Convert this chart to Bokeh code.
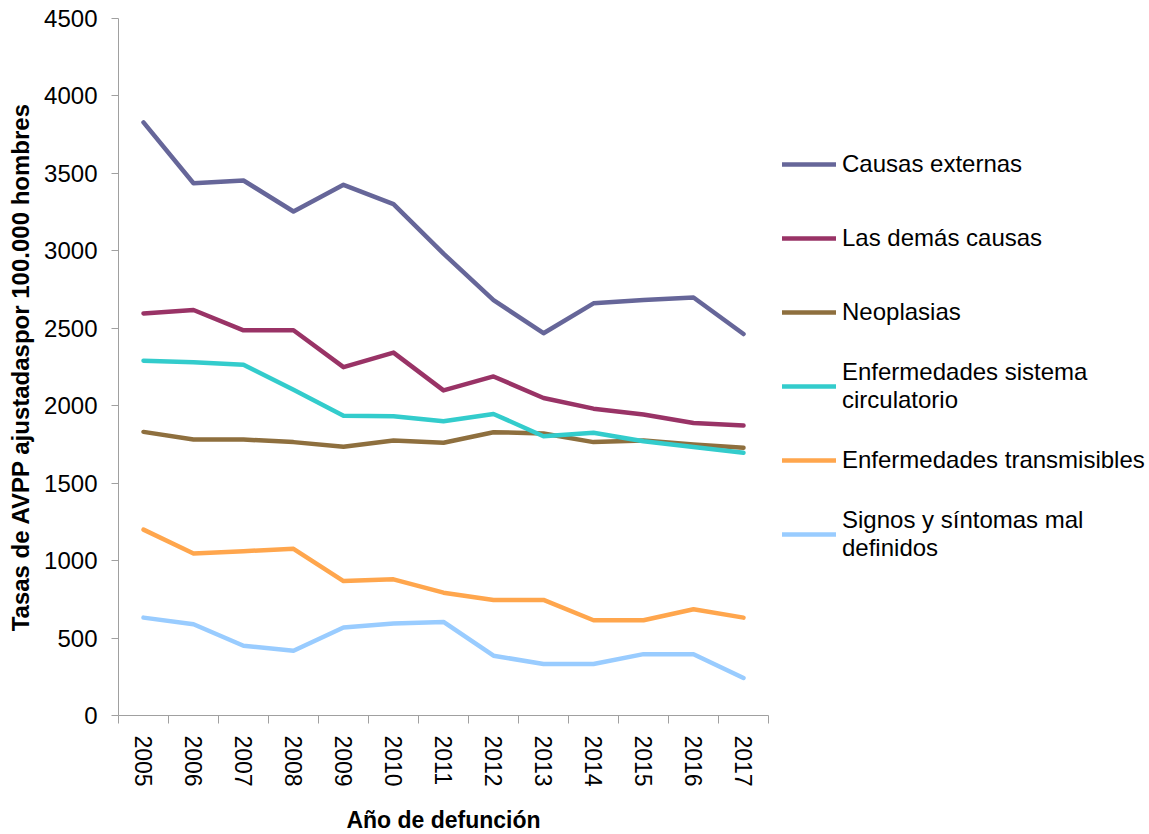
from bokeh.plotting import figure
from bokeh.models import Range1d, FixedTicker, Legend, LegendItem
from bokeh.embed import file_html
from bokeh.resources import INLINE

years = [2005, 2006, 2007, 2008, 2009, 2010, 2011, 2012, 2013, 2014, 2015, 2016, 2017]

causas_externas = [3829, 3436, 3454, 3254, 3426, 3301, 2982, 2682, 2468, 2661, 2682, 2699, 2463]
demas_causas = [2596, 2618, 2487, 2487, 2249, 2343, 2099, 2189, 2050, 1981, 1943, 1889, 1872]
neoplasias = [1831, 1782, 1782, 1765, 1735, 1775, 1761, 1829, 1821, 1765, 1775, 1750, 1728]
circulatorio = [2290, 2281, 2264, 2103, 1936, 1932, 1900, 1947, 1803, 1825, 1771, 1733, 1696]
transmisibles = [1200, 1046, 1061, 1076, 868, 879, 793, 746, 746, 615, 615, 686, 632]
signos = [632, 589, 450, 418, 568, 594, 604, 386, 332, 332, 396, 396, 242]

series_names = [
    "Causas externas",
    "Las demás causas",
    "Neoplasias",
    "Enfermedades sistema\ncirculatorio",
    "Enfermedades transmisibles",
    "Signos y síntomas mal\ndefinidos",
]
series_values = [causas_externas, demas_causas, neoplasias, circulatorio, transmisibles, signos]
series_colors = ["#666699", "#993366", "#8E6F3E", "#33CCCC", "#FFA64D", "#99CCFF"]

y_ticks = [0, 500, 1000, 1500, 2000, 2500, 3000, 3500, 4000, 4500]
x_bounds = [y - 0.5 for y in years] + [years[-1] + 0.5]

FONT = "Liberation Sans"

p = figure(frame_width=650, frame_height=697, output_backend="svg", toolbar_location=None,
           x_range=Range1d(years[0] - 0.5, years[-1] + 0.5),
           y_range=Range1d(0, 4500),
           min_border_left=118, min_border_right=381, min_border_top=18, min_border_bottom=5)

p.outline_line_color = None
p.xgrid.grid_line_color = None
p.ygrid.grid_line_color = None
p.background_fill_color = "white"
p.border_fill_color = "white"

axis_color = "#A0A0A0"

# x axis
xa = p.xaxis[0]
xa.ticker = FixedTicker(ticks=years, minor_ticks=x_bounds)
xa.axis_line_color = axis_color
xa.major_tick_line_color = None
xa.major_tick_out = 0
xa.major_tick_in = 0
xa.minor_tick_line_color = axis_color
xa.minor_tick_out = 8
xa.minor_tick_in = 0
xa.major_label_orientation = "vertical"
xa.major_label_text_font = FONT
xa.major_label_text_font_size = "23px"
xa.major_label_text_color = "black"
xa.major_label_standoff = 12
xa.axis_label = "Año de defunción"
xa.axis_label_text_font = FONT
xa.axis_label_text_font_style = "bold"
xa.axis_label_text_font_size = "23px"
xa.axis_label_text_color = "black"
xa.axis_label_standoff = 17

# y axis
ya = p.yaxis[0]
ya.ticker = FixedTicker(ticks=y_ticks)
ya.axis_line_color = axis_color
ya.major_tick_line_color = axis_color
ya.major_tick_out = 7
ya.major_tick_in = 0
ya.minor_tick_line_color = None
ya.major_label_text_font = FONT
ya.major_label_text_font_size = "24px"
ya.major_label_text_color = "black"
ya.major_label_standoff = 14
ya.axis_label = "Tasas de AVPP ajustadaspor 100.000 hombres"
ya.axis_label_text_font = FONT
ya.axis_label_text_font_style = "bold"
ya.axis_label_text_font_size = "24px"
ya.axis_label_text_color = "black"
ya.axis_label_standoff = 7

items = []
for name, vals, col in zip(series_names, series_values, series_colors):
    r = p.line(years, vals, line_color=col, line_width=4.5, line_join="round", line_cap="round")
    items.append(LegendItem(label=name, renderers=[r]))

legend = Legend(items=items, location=(14, 153), orientation="vertical",
                glyph_width=54, glyph_height=28, label_height=56, label_standoff=6,
                spacing=18, padding=0, margin=0,
                label_text_font=FONT, label_text_font_size="24px",
                label_text_color="black",
                label_text_line_height=1.12,
                border_line_color=None, background_fill_alpha=0)
p.add_layout(legend, "right")

open("out.html", "w").write(file_html(p, INLINE))
